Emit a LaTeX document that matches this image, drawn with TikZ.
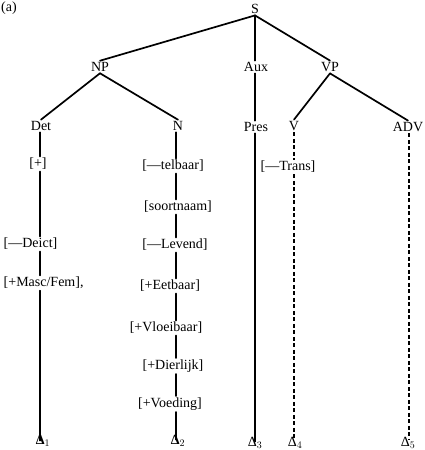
\documentclass[tikz,border=0pt]{standalone}
\usepackage{fontspec}
\setmainfont{Liberation Serif}
\begin{document}
\begin{tikzpicture}[x=1pt,y=-1pt,
  lab/.style={font=\fontsize{14}{16}\selectfont, inner sep=1.5pt},
  br/.style={line width=1.7pt, line cap=round},
  dl/.style={line width=1.6pt, dash pattern=on 4pt off 2.5pt}]
\useasboundingbox (0,0) rectangle (424,450);
\node[lab] (a) at (9,8) {(a)};
\node[lab] (S) at (255,9) {S};
\node[lab] (NP) at (100,67) {NP};
\node[lab] (Aux) at (256,67) {Aux};
\node[lab] (VP) at (330,67) {VP};
\node[lab] (Det) at (41,126) {Det};
\node[lab] (N) at (178,126) {N};
\node[lab] (Pres) at (256,127) {Pres};
\node[lab] (V) at (294,126) {V};
\node[lab] (ADV) at (408,127) {ADV};
% column coordinates
\coordinate (cA) at (40,0);
\coordinate (cB) at (176,0);
\coordinate (cC) at (255,0);
\coordinate (cD) at (294,0);
\coordinate (cE) at (409,0);
% Det column
\node[lab] (d1) at (38,164) {[+]};
\node[lab, anchor=west] (d2) at (2,244) {[—Deict]};
\node[lab, anchor=west] (d3) at (2,283) {[+Masc/Fem],};
\node[lab] (D1) at (43,441) {\textbf{Δ}$_1$};
% N column
\node[lab] (n1) at (173,166) {[—telbaar]};
\node[lab] (n2) at (178,207) {[soortnaam]};
\node[lab] (n3) at (175,245) {[—Levend]};
\node[lab] (n4) at (170,286) {[+Eetbaar]};
\node[lab] (n5) at (166,328) {[+Vloeibaar]};
\node[lab] (n6) at (173,366) {[+Dierlijk]};
\node[lab] (n7) at (170,404) {[+Voeding]};
\node[lab] (D2) at (178,441) {\textbf{Δ}$_2$};
% others
\node[lab] (D3) at (255,443) {Δ$_3$};
\node[lab] (t1) at (288,167) {[—Trans]};
\node[lab] (D4) at (295,443) {Δ$_4$};
\node[lab] (D5) at (408,443) {Δ$_5$};
% tree branches
\draw[br] (S.south) -- (NP.north);
\draw[br] (S.south -| cC) -- (Aux.north -| cC);
\draw[br] (S.south) -- (VP.north);
\draw[br] (NP.south) -- (Det.north);
\draw[br] (NP.south) -- (N.north);
\draw[br] (Aux.south -| cC) -- (Pres.north -| cC);
\draw[br] (VP.south) -- (V.north);
\draw[br] (VP.south) -- (ADV.north);
% Det column
\draw[br] (Det.south -| cA) -- (d1.north -| cA);
\draw[br] (d1.south -| cA) -- (d2.north -| cA);
\draw[br] (d2.south -| cA) -- (d3.north -| cA);
\draw[br] (d3.south -| cA) -- ([yshift=-7pt]D1.north -| cA);
% N column
\draw[br] (N.south -| cB) -- (n1.north -| cB);
\draw[br] (n1.south -| cB) -- (n2.north -| cB);
\draw[br] (n2.south -| cB) -- (n3.north -| cB);
\draw[br] (n3.south -| cB) -- (n4.north -| cB);
\draw[br] (n4.south -| cB) -- (n5.north -| cB);
\draw[br] (n5.south -| cB) -- (n6.north -| cB);
\draw[br] (n6.south -| cB) -- (n7.north -| cB);
\draw[br] (n7.south -| cB) -- ([yshift=-6pt]D2.north -| cB);
% Pres
\draw[br] (Pres.south -| cC) -- ([yshift=-6pt]D3.north -| cC);
% V (dashed)
\draw[dl] (V.south -| cD) -- (t1.north -| cD);
\draw[dl] (t1.south -| cD) -- ([yshift=-3pt]D4.north -| cD);
% ADV (dashed)
\draw[dl] (ADV.south -| cE) -- ([yshift=-4pt]D5.north -| cE);
\end{tikzpicture}
\end{document}
